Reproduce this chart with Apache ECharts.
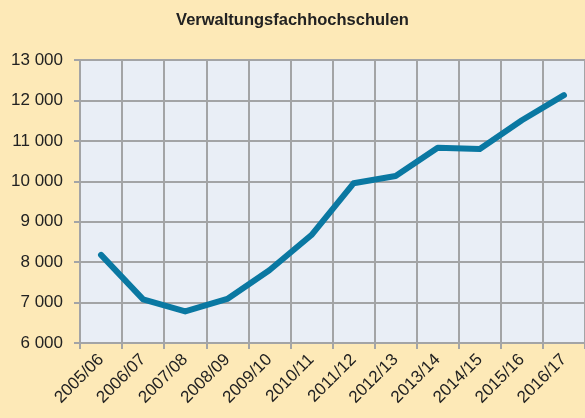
<!DOCTYPE html>
<html><head><meta charset="utf-8">
<script src="https://cdn.jsdelivr.net/npm/echarts@6/dist/echarts.min.js"></script>
<style>html,body{margin:0;padding:0;background:#fde9b7;}#c{width:585px;height:418px;}</style>
</head><body><div id="c"></div>
<script>
const title = 'Verwaltungsfachhochschulen';
const categories = ['2005/06','2006/07','2007/08','2008/09','2009/10','2010/11','2011/12','2012/13','2013/14','2014/15','2015/16','2016/17'];
const values = [8180, 7080, 6780, 7090, 7800, 8670, 9950, 10130, 10830, 10800, 11510, 12130];
const yMin = 6000, yMax = 13000, yStep = 1000;

const chart = echarts.init(document.getElementById('c'));
const gridColor = '#a3a4a6';
const font = 'Liberation Sans, Arial';
chart.setOption({
  backgroundColor: '#fde9b7',
  animation: false,
  title: {text: title, left: 'center', top: 7,
    textStyle: {fontFamily: font, fontWeight: 'bold', fontSize: 16.5, color: '#222'}},
  grid: {left: 80, right: -3, top: 60, bottom: 75, backgroundColor: '#e9eef6', show: true, borderWidth: 0},
  xAxis: {type: 'category', data: categories, boundaryGap: true,
    axisLine: {lineStyle: {color: gridColor, width: 2}},
    axisTick: {show: true, length: 6, lineStyle: {color: gridColor, width: 2}},
    splitLine: {show: true, lineStyle: {color: gridColor, width: 2}},
    axisLabel: {rotate: 45, interval: 0, fontFamily: font, fontSize: 17, color: '#222', margin: 14}},
  yAxis: {type: 'value', min: yMin, max: yMax, interval: yStep,
    axisLine: {show: true, lineStyle: {color: gridColor, width: 2}},
    axisTick: {show: true, length: 6, lineStyle: {color: gridColor, width: 2}},
    splitLine: {show: true, lineStyle: {color: gridColor, width: 2}},
    axisLabel: {fontFamily: font, fontSize: 17, color: '#222', margin: 17,
      formatter: v => String(v).replace(/\B(?=(\d{3})+(?!\d))/g, ' ')}},
  series: [{type: 'line', data: values, symbol: 'none',
    lineStyle: {color: '#0a78a2', width: 6, cap: 'round', join: 'round'}}]
});
</script></body></html>
